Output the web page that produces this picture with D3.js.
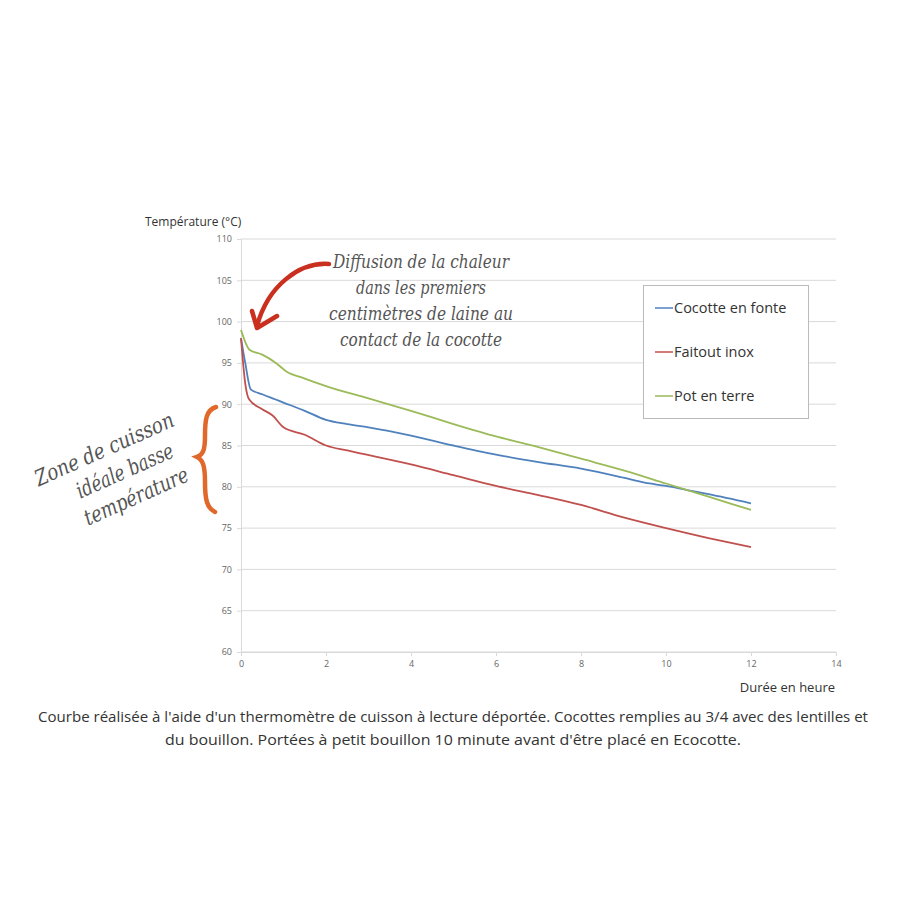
<!DOCTYPE html>
<html><head><meta charset="utf-8">
<script src="https://cdn.jsdelivr.net/npm/d3@7"></script>
<style>
body{margin:0;background:#fff;}
svg{display:block;}
</style></head>
<body><svg id="c" width="900" height="900"></svg>
<script>
const seriesNames = ["Cocotte en fonte", "Faitout inox", "Pot en terre"];
const seriesColors = ["#4f81bd", "#c0504d", "#9bbb59"];
const fonteHours = [0, 0.1, 0.23, 0.5, 0.8, 1, 1.5, 2, 2.5, 3, 4, 5, 6, 7, 8, 9, 9.5, 10, 10.5, 11, 12];
const fonteTemp  = [98, 95, 91.8, 91.2, 90.6, 90.2, 89.2, 88.1, 87.6, 87.2, 86.2, 85.0, 83.9, 83.0, 82.2, 81.1, 80.5, 80.1, 79.6, 79.1, 78.0];
const inoxHours = [0, 0.1, 0.19, 0.5, 0.75, 1, 1.5, 2, 2.5, 4, 5, 6, 7, 8, 9, 10, 11, 12];
const inoxTemp  = [98, 92.5, 90.6, 89.4, 88.6, 87.2, 86.3, 85.0, 84.4, 82.7, 81.4, 80.1, 79.0, 77.8, 76.3, 75.0, 73.8, 72.7];
const terreHours = [0, 0.2, 0.5, 0.82, 1.06, 1.5, 2, 3, 4, 5, 6, 7, 8, 9, 10, 11, 12];
const terreTemp  = [99.0, 96.6, 96.0, 95.0, 94.0, 93.1, 92.2, 90.7, 89.2, 87.6, 86.1, 84.8, 83.4, 82.0, 80.4, 78.8, 77.2];
const xTicks = [0, 2, 4, 6, 8, 10, 12, 14];
const yTicks = [60, 65, 70, 75, 80, 85, 90, 95, 100, 105, 110];
const yTitle = "Température (°C)";
const xTitle = "Durée en heure";
const caption = ["Courbe réalisée à l'aide d'un thermomètre de cuisson à lecture déportée. Cocottes remplies au 3/4 avec des lentilles et",
                 "du bouillon. Portées à petit bouillon 10 minute avant d'être placé en Ecocotte."];
const noteLines = ["Diffusion de la chaleur", "dans les premiers", "centimètres de laine au", "contact de la cocotte"];
const zoneLines = ["Zone de cuisson", "idéale basse", "température"];

const series = [
  {name: seriesNames[0], hours: fonteHours, temp: fonteTemp, color: seriesColors[0]},
  {name: seriesNames[1], hours: inoxHours, temp: inoxTemp, color: seriesColors[1]},
  {name: seriesNames[2], hours: terreHours, temp: terreTemp, color: seriesColors[2]}
];

const svg = d3.select("#c");
const x = d3.scaleLinear().domain([0, 14]).range([241, 836]);
const y = d3.scaleLinear().domain([60, 110]).range([652, 239]);

// gridlines
svg.append("g").selectAll("line").data(yTicks).join("line")
  .attr("x1", x(0)).attr("x2", x(14))
  .attr("y1", d => y(d)).attr("y2", d => y(d))
  .attr("stroke", "#d9d9d9").attr("stroke-width", 1);

// y axis
const yAxis = svg.append("g").attr("transform", `translate(${x(0)},0)`)
  .call(d3.axisLeft(y).tickValues(yTicks).tickSize(4).tickPadding(5));
yAxis.select(".domain").attr("stroke", "#d9d9d9");
yAxis.selectAll(".tick line").attr("stroke", "#d9d9d9");
yAxis.selectAll("text").attr("fill", "#666").style("font-family", "Open Sans, sans-serif").style("font-size", "9px");

// x axis
const xAxis = svg.append("g").attr("transform", `translate(0,${y(60)})`)
  .call(d3.axisBottom(x).tickValues(xTicks).tickSize(4).tickPadding(5));
xAxis.select(".domain").attr("stroke", "#d9d9d9");
xAxis.selectAll(".tick line").attr("stroke", "#d9d9d9");
xAxis.selectAll("text").attr("fill", "#666").style("font-family", "Open Sans, sans-serif").style("font-size", "9px");

// titles
svg.append("text").attr("x", 145).attr("y", 226).text(yTitle)
  .style("font-family", "Open Sans, sans-serif").style("font-size", "12px").attr("fill", "#333");
svg.append("text").attr("x", 835).attr("y", 692).attr("text-anchor", "end").text(xTitle)
  .style("font-family", "Open Sans, sans-serif").style("font-size", "13px").attr("fill", "#333");

// lines
const line = d3.line().x(d => x(d[0])).y(d => y(d[1])).curve(d3.curveMonotoneX);
svg.append("g").selectAll("path").data(series).join("path")
  .attr("d", s => line(s.hours.map((h, i) => [h, s.temp[i]])))
  .attr("fill", "none").attr("stroke", s => s.color).attr("stroke-width", 1.8);

// legend
const lg = svg.append("g");
lg.append("rect").attr("x", 643.5).attr("y", 285.5).attr("width", 165).attr("height", 133)
  .attr("fill", "#fff").attr("stroke", "#bbb");
series.forEach((s, i) => {
  const ly = 308 + i * 44;
  lg.append("line").attr("x1", 655).attr("x2", 673).attr("y1", ly).attr("y2", ly)
    .attr("stroke", s.color).attr("stroke-width", 1.5);
  lg.append("text").attr("x", 674).attr("y", ly + 5).text(s.name)
    .style("font-family", "Open Sans, sans-serif").style("font-size", "14.5px").attr("fill", "#333");
});

// note annotation (handwritten style)
const noteY = [268, 294, 320, 346];
const noteW = [176, 130, 184, 162];
noteLines.forEach((t, i) => {
  svg.append("text").attr("x", 421).attr("y", noteY[i]).attr("text-anchor", "middle").text(t)
    .attr("textLength", noteW[i]).attr("lengthAdjust", "spacingAndGlyphs")
    .style("font-family", "'DejaVu Serif', serif")
    .style("font-style", "italic").style("font-size", "19px")
    .attr("fill", "#555");
});

// red arrow
svg.append("path").attr("d", "M329,264 C300,262 268,285 257,326")
  .attr("fill", "none").attr("stroke", "#c9301f").attr("stroke-width", 4.5).attr("stroke-linecap", "round");
svg.append("path").attr("d", "M252,311 L257,328 L277,316")
  .attr("fill", "none").attr("stroke", "#c9301f").attr("stroke-width", 4.5)
  .attr("stroke-linecap", "round").attr("stroke-linejoin", "round");

// orange brace
svg.append("path")
  .attr("d", "M216,407 C206,410 205,420 205,436 C205,450 203,455 197,457 C203,460 205,466 205,482 C205,500 207,508 215,512")
  .attr("fill", "none").attr("stroke", "#e0682a").attr("stroke-width", 4.5).attr("stroke-linecap", "round");

// zone annotation
const zoneW = [150, 104, 112];
const zg = svg.append("g").attr("transform", "translate(120,470) rotate(-24)");
zoneLines.forEach((t, i) => {
  zg.append("text").attr("x", i === 0 ? -6 : 4).attr("y", -18 + i * 28).attr("text-anchor", "middle").text(t)
    .attr("textLength", zoneW[i]).attr("lengthAdjust", "spacingAndGlyphs")
    .style("font-family", "'DejaVu Serif', serif")
    .style("font-style", "italic").style("font-size", "22px")
    .attr("fill", "#555");
});

// caption
const capW = [830, 576];
caption.forEach((t, i) => {
  svg.append("text").attr("x", 453).attr("y", 722 + i * 23).attr("text-anchor", "middle").text(t)
    .attr("textLength", capW[i]).attr("lengthAdjust", "spacingAndGlyphs")
    .style("font-family", "Open Sans, sans-serif").style("font-size", "15px").attr("fill", "#333");
});
</script>
</body></html>
